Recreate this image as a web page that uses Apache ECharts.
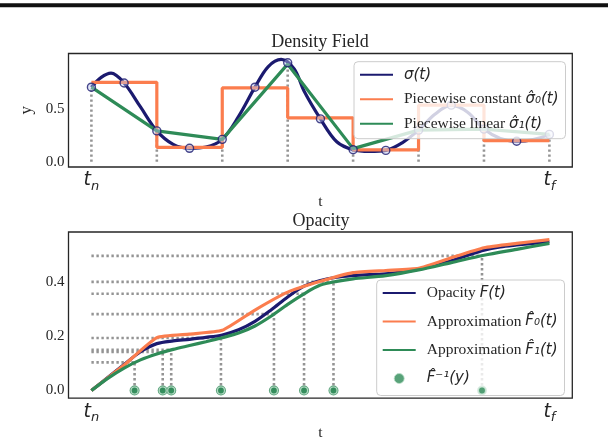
<!DOCTYPE html>
<html><head><meta charset="utf-8">
<script src="https://cdn.jsdelivr.net/npm/echarts@6/dist/echarts.min.js"></script>
<style>html,body{margin:0;padding:0;background:#fff}#c{width:608px;height:442px}</style>
</head><body><div id="c"></div>
<script>
// ---------- Data ----------
const knots = [0, 1, 2, 3, 4, 5, 6, 7];
const xTickValues = [0, 7];
const xTickLabels = ['n', 'f'];           // subscripts of t
const topYTicks = [0, 0.5];
const botYTicks = [0, 0.2, 0.4];

// Density sigma(t)
const sigmaT = [0,0.15,0.3,0.5,0.75,1,1.25,1.5,1.75,2,2.25,2.5,2.7,2.9,3.1,3.25,3.5,3.75,4,4.25,4.5,4.75,5,5.25,5.5,5.75,6,6.25,6.5,6.75,7];
const sigmaV = [0.707,0.80,0.84,0.747,0.52,0.293,0.165,0.128,0.14,0.213,0.43,0.707,0.90,0.97,0.88,0.67,0.407,0.19,0.114,0.098,0.108,0.18,0.30,0.45,0.537,0.47,0.31,0.22,0.195,0.21,0.26];
// samples (circles)
const sampleT = [0,0.5,1,1.5,2,2.5,3,3.5,4,4.5,5,5.5,6,6.5,7];
const sampleV = [0.707,0.747,0.293,0.128,0.213,0.707,0.938,0.407,0.114,0.108,0.30,0.537,0.31,0.195,0.26];
// piecewise constant per interval
const pwConstV = [0.753, 0.136, 0.70, 0.417, 0.114, 0.537, 0.20];
// piecewise linear at knots
const pwLinV = [0.707, 0.293, 0.213, 0.925, 0.125, 0.30, 0.31, 0.26];

// Opacity F(t)
const fT = [0,0.25,0.5,0.75,1,1.25,1.5,1.75,2,2.25,2.5,2.75,3,3.25,3.5,3.75,4,4.25,4.5,4.75,5,5.25,5.5,5.75,6,6.25,6.5,6.75,7];
const fV = [0,0.048,0.096,0.143,0.173,0.183,0.189,0.196,0.205,0.224,0.255,0.298,0.345,0.385,0.406,0.418,0.424,0.428,0.431,0.438,0.448,0.462,0.479,0.499,0.518,0.530,0.537,0.543,0.549];
const f0T = [0,0.5,1,1.5,2,2.5,3,3.5,4,4.5,5,5.5,6,6.5,7];
const f0V = [0,0.094,0.195,0.208,0.222,0.297,0.363,0.403,0.435,0.443,0.451,0.49,0.527,0.543,0.557];
const f1T = [0,0.25,0.5,0.75,1,1.25,1.5,1.75,2,2.25,2.5,2.75,3,3.25,3.5,3.75,4,4.5,5,5.5,6,6.5,7];
const f1V = [0,0.045,0.083,0.113,0.135,0.152,0.166,0.18,0.195,0.212,0.238,0.275,0.318,0.357,0.389,0.403,0.412,0.424,0.445,0.472,0.499,0.521,0.543];
// inverse samples
const invT = [0.66, 1.09, 1.22, 1.98, 2.79, 3.25, 3.70, 5.97];
const invY = [0.104, 0.142, 0.150, 0.194, 0.282, 0.357, 0.401, 0.497];

// ---------- Styles ----------
const NAVY = '#1b1a6f', CORAL = '#fb7d4e', GREEN = '#2e8b57', DOT = '#949494';
const TXT = '#262626';
const SERIF = 'Liberation Serif', MATH = 'DejaVu Sans';
const zip = (a, b) => a.map((v, i) => [v, b[i]]);

const dotted = (axis, p1, p2) => ({
  type: 'line', xAxisIndex: axis, yAxisIndex: axis, data: [p1, p2],
  symbol: 'none', silent: true, z: 1,
  lineStyle: { color: DOT, width: 2.6, type: [2.4, 2.6], cap: 'butt' }
});

const series = [];
knots.forEach((k, i) => series.push(dotted(0, [k, 0], [k, pwLinV[i]])));
series.push({
  name: 'σ(t)', type: 'line', xAxisIndex: 0, yAxisIndex: 0,
  data: zip(sigmaT, sigmaV), smooth: 0.35, symbol: 'none', z: 2,
  lineStyle: { color: NAVY, width: 3.2 }, itemStyle: { color: NAVY }
});
series.push({
  name: 'Piecewise constant σ̂₀(t)', type: 'line', xAxisIndex: 0, yAxisIndex: 0,
  data: knots.map((k) => [k, pwConstV[Math.min(k, pwConstV.length - 1)]]),
  step: 'end', symbol: 'none', z: 2,
  lineStyle: { color: CORAL, width: 3.2 }, itemStyle: { color: CORAL }
});
series.push({
  name: 'Piecewise linear σ̂₁(t)', type: 'line', xAxisIndex: 0, yAxisIndex: 0,
  data: zip(knots, pwLinV), symbol: 'none', z: 2,
  lineStyle: { color: GREEN, width: 3.2 }, itemStyle: { color: GREEN }
});
series.push({
  type: 'scatter', xAxisIndex: 0, yAxisIndex: 0, data: zip(sampleT, sampleV),
  symbol: 'circle', symbolSize: 8, z: 3, silent: true,
  itemStyle: { color: 'rgba(190,200,240,0.55)', borderColor: NAVY, borderWidth: 1.4 }
});

invT.forEach((t, i) => {
  series.push(dotted(1, [0, invY[i]], [t, invY[i]]));
  series.push(dotted(1, [t, 0], [t, invY[i]]));
});
series.push({
  name: 'Opacity F(t)', type: 'line', xAxisIndex: 1, yAxisIndex: 1,
  data: zip(fT, fV), smooth: 0.3, symbol: 'none', z: 2,
  lineStyle: { color: NAVY, width: 3.2 }, itemStyle: { color: NAVY }
});
series.push({
  name: 'Approximation F̂₀(t)', type: 'line', xAxisIndex: 1, yAxisIndex: 1,
  data: zip(f0T, f0V), smooth: 0.15, symbol: 'none', z: 2,
  lineStyle: { color: CORAL, width: 3.2 }, itemStyle: { color: CORAL }
});
series.push({
  name: 'Approximation F̂₁(t)', type: 'line', xAxisIndex: 1, yAxisIndex: 1,
  data: zip(f1T, f1V), smooth: 0.3, symbol: 'none', z: 2,
  lineStyle: { color: GREEN, width: 3.2 }, itemStyle: { color: GREEN }
});
series.push({
  type: 'scatter', xAxisIndex: 1, yAxisIndex: 1, data: invT.map(t => [t, 0]),
  symbol: 'circle', symbolSize: 10, z: 3, silent: true,
  itemStyle: { color: GREEN }
});
series.push({
  name: 'F̂⁻¹(y)', type: 'scatter', xAxisIndex: 1, yAxisIndex: 1, data: invT.map(t => [t, 0]),
  symbol: 'circle', symbolSize: 7, z: 4,
  itemStyle: { color: GREEN, borderColor: '#cde9d8', borderWidth: 1.2 }
});

const legendNames = {
  'σ(t)': '{m|σ(t)}',
  'Piecewise constant σ̂₀(t)': '{a|Piecewise constant }{m|σ̂₀(t)}',
  'Piecewise linear σ̂₁(t)': '{a|Piecewise linear }{m|σ̂₁(t)}',
  'Opacity F(t)': '{a|Opacity }{m|F(t)}',
  'Approximation F̂₀(t)': '{a|Approximation }{m|F̂₀(t)}',
  'Approximation F̂₁(t)': '{a|Approximation }{m|F̂₁(t)}',
  'F̂⁻¹(y)': '{m|F̂⁻¹(y)}'
};
const legendText = {
  color: TXT, fontFamily: SERIF, fontSize: 15.5, lineHeight: 20, padding: [0, 0, 0, 6],
  rich: {
    a: { fontFamily: SERIF, fontSize: 15.5, lineHeight: 20, color: TXT },
    m: { fontFamily: MATH, fontStyle: 'italic', fontSize: 15, lineHeight: 20, color: TXT }
  }
};
const legendBase = {
  orient: 'vertical', itemWidth: 33, itemHeight: 10,
  backgroundColor: 'rgba(255,255,255,0.8)', borderColor: '#cccccc', borderWidth: 1,
  borderRadius: 4, textStyle: legendText, formatter: n => legendNames[n] || n,
  selectedMode: false, inactiveColor: TXT
};
const lineItem = (n) => ({ name: n, itemStyle: { opacity: 0 } });

const xAxisCommon = (idx, gap) => ({
  gridIndex: idx, type: 'value', min: -0.35, max: 7.35,
  name: 't', nameLocation: 'middle', nameGap: gap,
  nameTextStyle: { fontFamily: SERIF, fontSize: 15.5, color: TXT },
  axisLine: { show: false }, axisTick: { show: false }, splitLine: { show: false },
  axisLabel: {
    customValues: xTickValues, margin: 4,
    formatter: (v) => '{t|t}{s|' + xTickLabels[xTickValues.indexOf(Math.round(v))] + '}',
    rich: {
      t: { fontFamily: MATH, fontStyle: 'italic', fontSize: 19, lineHeight: 20, verticalAlign: 'top', color: TXT },
      s: { fontFamily: MATH, fontStyle: 'italic', fontSize: 13, padding: [9, 0, 0, 0], verticalAlign: 'top', color: TXT }
    }
  }
});
const yAxisCommon = (idx, min, max, ticks, name) => ({
  gridIndex: idx, type: 'value', min: min, max: max,
  name: name, nameLocation: 'middle', nameGap: 32, nameRotate: 90,
  nameTextStyle: { fontFamily: SERIF, fontSize: 17, color: TXT },
  axisLine: { show: false }, axisTick: { show: false }, splitLine: { show: false },
  axisLabel: {
    customValues: ticks, margin: 4, formatter: (v) => v.toFixed(1),
    fontFamily: SERIF, fontSize: 15, color: TXT
  }
});

const option = {
  animation: false,
  backgroundColor: '#fff',
  grid: [
    { left: 68.5, top: 53.5, width: 503.8, height: 113.5, show: true, borderColor: '#262626', borderWidth: 1.3, backgroundColor: '#fff' },
    { left: 68.5, top: 232, width: 503.8, height: 170.7, show: true, borderColor: '#262626', borderWidth: 1.3, backgroundColor: '#fff' }
  ],
  xAxis: [xAxisCommon(0, 22), xAxisCommon(1, 25)],
  yAxis: [yAxisCommon(0, -0.049, 1.026, topYTicks, 'y'), yAxisCommon(1, -0.028, 0.585, botYTicks, '')],
  legend: [
    Object.assign({}, legendBase, { left: 354, top: 61.7, itemGap: 4.5, padding: [3, 7, 5, 5],
      data: ['σ(t)', 'Piecewise constant σ̂₀(t)', 'Piecewise linear σ̂₁(t)'].map(lineItem) }),
    Object.assign({}, legendBase, { left: 376.7, top: 280, itemGap: 8.5, padding: [3, 7, 7, 5],
      data: ['Opacity F(t)', 'Approximation F̂₀(t)', 'Approximation F̂₁(t)'].map(lineItem).concat([
        { name: 'F̂⁻¹(y)', itemStyle: { color: GREEN, borderColor: '#b9dfc8', borderWidth: 1 } }]) })
  ],
  graphic: [
    { type: 'rect', shape: { x: 0, y: 3.3, width: 608, height: 4 }, style: { fill: '#111' }, silent: true },
    { type: 'text', x: 320, y: 42, silent: true,
      style: { text: 'Density Field', font: '18px "Liberation Serif"', fill: TXT, align: 'center', verticalAlign: 'middle', textAlign: 'center', textVerticalAlign: 'middle' } },
    { type: 'text', x: 321, y: 221, silent: true,
      style: { text: 'Opacity', font: '18px "Liberation Serif"', fill: TXT, align: 'center', verticalAlign: 'middle', textAlign: 'center', textVerticalAlign: 'middle' } }
  ],
  series: series
};

const chart = echarts.init(document.getElementById('c'), null, { renderer: 'canvas' });
chart.setOption(option);
</script>
</body></html>
